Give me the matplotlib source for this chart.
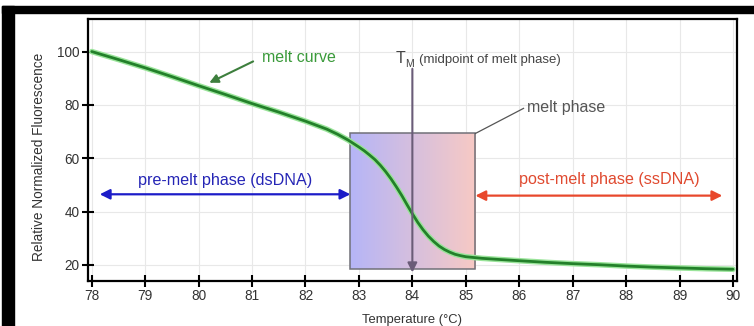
import numpy as np
import matplotlib.pyplot as plt
from matplotlib.patches import Rectangle

plt.rcParams['font.family'] = ['Liberation Sans', 'DejaVu Sans']

# melt curve
temp = [78.0, 78.5, 79.0, 79.5, 80.0, 80.5, 81.0, 81.5, 82.0, 82.4, 82.6, 82.8,
        83.0, 83.1, 83.2, 83.3, 83.4, 83.5, 83.6, 83.7, 83.8, 83.9, 84.0, 84.1,
        84.2, 84.3, 84.4, 84.5, 84.6, 84.7, 84.8, 84.9, 85.0,
        85.3, 85.6, 86.0, 86.5, 87.0, 87.5, 88.0, 88.5, 89.0, 89.5, 90.0]
fluor = [100.0, 97.0, 93.9, 90.6, 87.2, 83.9, 80.5, 77.3, 73.9, 70.9, 69.0, 66.8,
         64.2, 62.8, 61.2, 59.5, 57.4, 55.0, 52.3, 49.3, 46.1, 42.6, 39.2, 36.0,
         33.2, 30.8, 28.8, 27.1, 25.8, 24.8, 24.0, 23.5, 23.1,
         22.5, 22.1, 21.6, 21.0, 20.5, 20.1, 19.6, 19.2, 18.9, 18.6, 18.4]

xticks = list(range(78, 91))
yticks = [20, 40, 60, 80, 100]

melt_lo, melt_hi = 82.84, 85.18
box_bottom, box_top = 18.5, 69.3
tm = 84.0

fig = plt.figure(figsize=(7.54, 3.26), dpi=100)
ax = fig.add_axes([88/754, 1-281/326, (737-88)/754, (281-19)/326])

# black frame bits of the screenshot
fig.patches.append(Rectangle((2/754, 0), 12/754, 1-6/326, transform=fig.transFigure,
                             color='black', zorder=0))
fig.patches.append(Rectangle((2/754, 1-13/326), 1, 7/326, transform=fig.transFigure,
                             color='black', zorder=0))

ax.set_xlim(77.93, 90.075)
ax.set_ylim(14.0, 112.2)
ax.set_xticks(xticks)
ax.set_yticks(yticks)
ax.grid(True, color='#e8e8e8', lw=0.8, zorder=0)
ax.set_axisbelow(True)
for s in ax.spines.values():
    s.set_linewidth(1.6)
    s.set_color('black')
ax.tick_params(direction='inout', length=8, width=1.5, labelsize=9.8,
               labelcolor='#333333', pad=2)

# melt phase box with gradient
c_left = np.array([0.71, 0.71, 0.97])
c_right = np.array([0.97, 0.79, 0.77])
t = np.linspace(0, 1, 200)[:, None]
grad = (c_left * (1 - t) + c_right * t)[None, :, :]
ax.imshow(grad, extent=[melt_lo, melt_hi, box_bottom, box_top], aspect='auto',
          zorder=1, interpolation='bilinear')
ax.add_patch(Rectangle((melt_lo, box_bottom), melt_hi - melt_lo, box_top - box_bottom,
                       fill=False, ec='#707078', lw=1.1, zorder=2))

# curve with light halo
ax.plot(temp, fluor, color='#9ae49a', lw=4.0, solid_capstyle='round', zorder=3)
ax.plot(temp, fluor, color='#23802a', lw=2.0, solid_capstyle='round', zorder=4)

# Tm arrow
ax.annotate('', xy=(tm, 17.2), xytext=(tm, 93.5),
            arrowprops=dict(arrowstyle='-|>', color='#6a5c78', lw=1.5,
                            mutation_scale=14, shrinkA=0, shrinkB=0), zorder=5)
ax.text(83.69, 97.4, 'T', fontsize=11.5, color='#444444', ha='left', va='center')
ax.text(83.86, 95.4, 'M', fontsize=7.5, color='#444444', ha='left', va='center')
ax.text(84.12, 97.0, '(midpoint of melt phase)', fontsize=9.5, color='#444444',
        ha='left', va='center')

# melt curve label
ax.annotate('', xy=(80.2, 88.3), xytext=(81.02, 96.3),
            arrowprops=dict(arrowstyle='-|>', color='#3d7f3d', lw=1.5,
                            mutation_scale=13, shrinkA=0, shrinkB=0))
ax.text(81.18, 97.8, 'melt curve', fontsize=11.5, color='#3a9a3a', ha='left', va='center')

# melt phase label
ax.plot([melt_hi, 86.08], [box_top, 78.7], color='#555555', lw=0.9)
ax.text(86.14, 79.2, 'melt phase', fontsize=11.5, color='#555555', ha='left', va='center')

# pre / post melt arrows
ax.annotate('', xy=(78.15, 46.5), xytext=(melt_lo, 46.5),
            arrowprops=dict(arrowstyle='<|-|>', color='#1c1cc8', lw=1.6,
                            mutation_scale=15, shrinkA=0, shrinkB=0))
ax.text(80.5, 51.8, 'pre-melt phase (dsDNA)', fontsize=11.6, color='#2525b5',
        ha='center', va='center')
ax.annotate('', xy=(melt_hi, 46.0), xytext=(89.8, 46.0),
            arrowprops=dict(arrowstyle='<|-|>', color='#e8482c', lw=1.6,
                            mutation_scale=15, shrinkA=0, shrinkB=0))
ax.text(87.69, 52.0, 'post-melt phase (ssDNA)', fontsize=11.6, color='#e04a30',
        ha='center', va='center')

ax.set_xlabel('Temperature (°C)', fontsize=9.4, color='#333333', labelpad=8)
ax.set_ylabel('Relative Normalized Fluorescence', fontsize=9.8, color='#333333')
ax.yaxis.set_label_coords(-42/649, 0.475)

fig.savefig('out.png', dpi=100)
